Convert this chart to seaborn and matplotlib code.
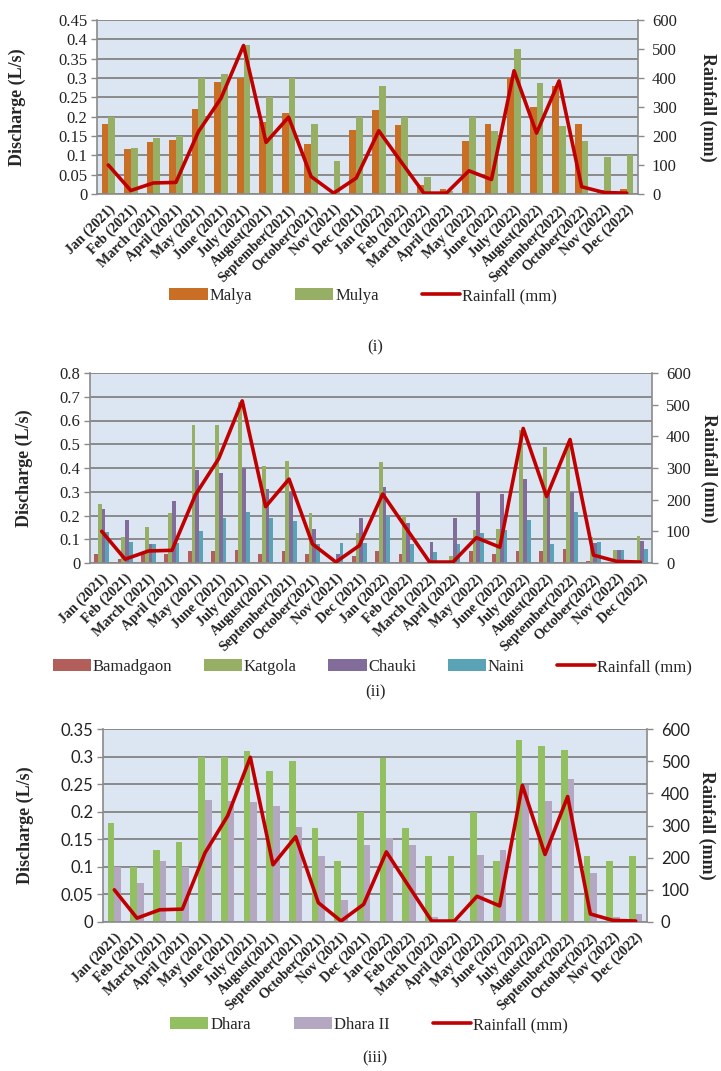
import numpy as np
import pandas as pd
import seaborn as sns
import matplotlib.pyplot as plt
from matplotlib.lines import Line2D

# ---- datos ----------------------------------------------------------------
meses = ["Jan (2021)", "Feb (2021)", "March (2021)", "April (2021)", "May (2021)",
         "June (2021)", "July (2021)", "August(2021)", "September(2021)",
         "October(2021)", "Nov (2021)", "Dec (2021)", "Jan (2022)", "Feb (2022)",
         "March (2022)", "April (2022)", "May (2022)", "June (2022)", "July (2022)",
         "August(2022)", "September(2022)", "October(2022)", "Nov (2022)", "Dec (2022)"]

rainfall = [100, 12, 38, 40, 215, 330, 512, 178, 265, 60, 3, 55,
            218, 110, 3, 3, 80, 50, 425, 210, 390, 25, 5, 3]

# panel (i)
malya = [0.18, 0.117, 0.135, 0.14, 0.22, 0.29, 0.30, 0.185, 0.21, 0.13, 0.0, 0.165,
         0.217, 0.178, 0.022, 0.012, 0.138, 0.18, 0.30, 0.225, 0.28, 0.18, 0.01, 0.014]
mulya = [0.2, 0.118, 0.145, 0.15, 0.30, 0.31, 0.385, 0.25, 0.30, 0.18, 0.085, 0.2,
         0.28, 0.2, 0.045, 0.008, 0.2, 0.162, 0.375, 0.288, 0.175, 0.138, 0.095, 0.1]

# panel (ii)
bamadgaon = [0.04, 0.018, 0.04, 0.04, 0.05, 0.05, 0.055, 0.04, 0.05, 0.04, 0.0, 0.03,
             0.05, 0.04, 0.005, 0.0, 0.05, 0.038, 0.05, 0.05, 0.06, 0.01, 0.0, 0.0]
katgola = [0.25, 0.11, 0.152, 0.21, 0.58, 0.58, 0.68, 0.41, 0.43, 0.21, 0.0, 0.125,
           0.425, 0.2, 0.0, 0.03, 0.14, 0.145, 0.56, 0.49, 0.5, 0.11, 0.055, 0.115]
chauki = [0.228, 0.183, 0.08, 0.26, 0.39, 0.377, 0.40, 0.31, 0.30, 0.145, 0.04, 0.19,
          0.322, 0.167, 0.09, 0.19, 0.30, 0.29, 0.355, 0.30, 0.30, 0.085, 0.055, 0.092]
naini = [0.13, 0.09, 0.08, 0.085, 0.135, 0.19, 0.215, 0.19, 0.178, 0.078, 0.085, 0.085,
         0.2, 0.08, 0.045, 0.078, 0.125, 0.137, 0.18, 0.08, 0.215, 0.09, 0.055, 0.06]

# panel (iii)
dhara = [0.18, 0.1, 0.13, 0.145, 0.3, 0.3, 0.31, 0.273, 0.292, 0.17, 0.11, 0.2,
         0.298, 0.17, 0.12, 0.12, 0.2, 0.11, 0.33, 0.32, 0.312, 0.12, 0.11, 0.12]
dhara2 = [0.1, 0.07, 0.11, 0.1, 0.222, 0.22, 0.218, 0.21, 0.172, 0.12, 0.04, 0.14,
          0.152, 0.14, 0.009, 0.003, 0.121, 0.13, 0.248, 0.219, 0.26, 0.089, 0.009, 0.015]

# ---- estilo ---------------------------------------------------------------
sns.set_theme(style="white")
plt.rcParams['font.family'] = ['Liberation Serif', 'DejaVu Serif']

fondo = "#DCE6F2"
gris = "#8A8A8A"
rojo = "#C00000"
W, H = 721, 1071

fig = plt.figure(figsize=(W / 100, H / 100), dpi=100)


def caja(izq, arriba, der, abajo):
    # convierte pixeles a fracciones de figura
    return [izq / W, 1 - abajo / H, (der - izq) / W, (abajo - arriba) / H]


def panel(rect, series, colores, ymax, ypaso, fuente_ticks, ylab_x, rlab_x,
          leg_y, leg_x, colsp, caption, cap_y):
    ax = fig.add_axes(caja(*rect))
    filas = []
    for nombre, valores in series.items():
        for m, v in zip(meses, valores):
            filas.append({"Month": m, "Discharge": v, "Station": nombre})
    df = pd.DataFrame(filas)

    sns.barplot(data=df, x="Month", y="Discharge", hue="Station", palette=colores,
                width=0.6 if len(series) == 2 else 0.64, gap=0, ax=ax,
                edgecolor="none", linewidth=0)
    handles, labels = ax.get_legend_handles_labels()
    ax.get_legend().remove()

    ax.set_facecolor(fondo)
    ax.set_axisbelow(True)
    ax.set_ylim(0, ymax)
    ax.set_yticks(np.arange(0, ymax + ypaso / 2, ypaso))
    ax.set_yticklabels([f"{t:g}" for t in np.arange(0, ymax + ypaso / 2, ypaso)],
                       family=fuente_ticks, fontsize=12, color="#222222")
    ax.grid(axis="y", color=gris, lw=1.4)
    ax.grid(axis="x", visible=False)
    ax.set_xlim(-0.5, 23.5)
    ax.set_xticks(range(24))
    ax.set_xticklabels(meses, rotation=45, ha="right", rotation_mode="anchor",
                       fontsize=10.2, fontweight="bold", color="#222222")
    ax.set_xticks(np.arange(-0.5, 24, 1), minor=True)
    ax.tick_params(axis="x", which="major", length=0, pad=6)
    ax.tick_params(axis="x", which="minor", length=4, color=gris, width=1)
    ax.tick_params(axis="y", length=4, color=gris, width=1, left=True, pad=3)
    ax.set_xlabel("")
    ax.set_ylabel("")
    for s in ["top", "right"]:
        ax.spines[s].set_visible(False)
    for s in ["left", "bottom"]:
        ax.spines[s].set_color(gris)
        ax.spines[s].set_linewidth(1.2)

    # lluvia en eje secundario
    ax2 = ax.twinx()
    sns.lineplot(x=np.arange(24), y=rainfall, ax=ax2, color=rojo, lw=2.6)
    ax2.set_ylim(0, 600)
    ax2.set_xlim(-0.5, 23.5)
    ax2.set_yticks(range(0, 601, 100))
    ax2.set_yticklabels([str(t) for t in range(0, 601, 100)], family=fuente_ticks,
                        fontsize=12, color="#222222")
    ax2.tick_params(axis="y", length=4, color=gris, width=1, right=True, pad=6)
    ax2.grid(False)
    ax2.set_ylabel("")
    for s in ["top", "left", "bottom"]:
        ax2.spines[s].set_visible(False)
    ax2.spines["right"].set_color(gris)
    ax2.spines["right"].set_linewidth(1.2)

    # etiquetas de ejes
    ymid = (rect[1] + rect[3]) / 2
    fig.text(ylab_x / W, 1 - ymid / H, "Discharge (L/s)", rotation=90, ha="center",
             va="center", fontsize=13, fontweight="bold")
    fig.text(rlab_x / W, 1 - ymid / H, "Rainfall (mm)", rotation=270, ha="center",
             va="center", fontsize=13, fontweight="bold")

    # leyenda
    handles = list(handles) + [Line2D([0], [0], color=rojo, lw=2.6)]
    labels = list(labels) + ["Rainfall (mm)"]
    fig.legend(handles, labels, loc="center", bbox_to_anchor=(leg_x / W, 1 - leg_y / H),
               ncol=len(labels), frameon=False, fontsize=12, handlelength=2.3,
               handleheight=0.75, handletextpad=0.1, columnspacing=colsp)
    fig.text(375 / W, 1 - cap_y / H, caption, ha="center", va="center", fontsize=12)


# ? Panel (i) Malya / Mulya ---------------------------------------------------
panel((97, 20, 638, 194), {"Malya": malya, "Mulya": mulya}, ["#E46C0A", "#9BBB59"],
      0.45, 0.05, "Liberation Serif", 17, 708, 296, 363, 2.6, "(i)", 347)

# ? Panel (ii) cuatro fuentes -------------------------------------------------
panel((90, 373, 652, 563),
      {"Bamadgaon": bamadgaon, "Katgola": katgola, "Chauki": chauki, "Naini": naini},
      ["#C0504D", "#9BBB59", "#8064A2", "#4BACC6"],
      0.8, 0.1, "Liberation Serif", 24, 709, 667, 372, 1.9, "(ii)", 692)

# ? Panel (iii) Dhara ---------------------------------------------------------
panel((103, 729, 647, 922), {"Dhara": dhara, "Dhara II": dhara2}, ["#92D050", "#B3A2C7"],
      0.35, 0.05, "Lato", 25, 707, 1025, 369, 2.6, "(iii)", 1058)

fig.savefig("out.png", dpi=100)
